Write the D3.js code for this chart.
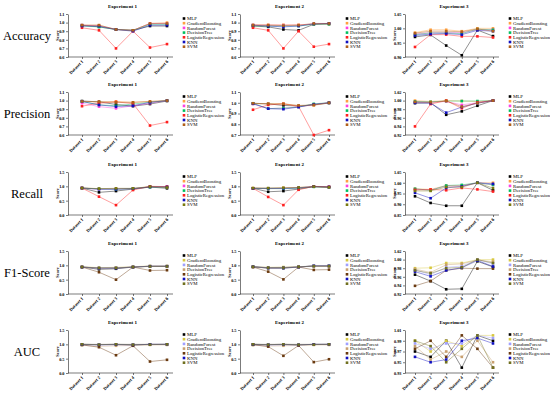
<!DOCTYPE html>
<html>
<head>
<meta charset="utf-8">
<script src="https://cdn.jsdelivr.net/npm/d3@7"></script>
<style>
  body { margin: 0; background: #fff; }
  svg { display: block; }
  text { font-family: "Liberation Serif", "Times New Roman", serif; }
</style>
</head>
<body>
<svg id="chart" width="550" height="395"></svg>
<script>
var models = ["MLP", "GradientBoosting", "RandomForest", "DecisionTree", "LogisticRegression", "KNN", "SVM"];
var datasets = ["Dataset 1", "Dataset 2", "Dataset 3", "Dataset 4", "Dataset 5", "Dataset 6"];
var metrics = ["Accuracy", "Precision", "Recall", "F1-Score", "AUC"];
var experiments = ["Experiment 1", "Experiment 2", "Experiment 3"];

// colours per row (the figure changes palette a bit from row to row)
var paletteA = ["#000000", "#FFA040", "#FF40E0", "#00C060", "#FF2020", "#1010C0", "#B0601A"];
var paletteB = ["#000000", "#FFA040", "#FF40E0", "#00C060", "#FF2020", "#1010C0", "#7A7A10"];
var paletteC = ["#000000", "#D8C840", "#A0A0FF", "#C8A070", "#6A3A10", "#1010C0", "#707020"];

// y tick labels, one list per panel
var ticksAccuracy = [["0.6","0.7","0.8","0.9","1.0","1.1"], ["0.6","0.7","0.8","0.9","1.0","1.1"], ["0.90","0.95","1.00","1.05"]];
var ticksPrecision = [["0.6","0.7","0.8","0.9","1.0","1.1"], ["0.7","0.8","0.9","1.0","1.1"], ["0.92","0.94","0.96","0.98","1.00","1.02"]];
var ticksRecall = [["0.0","0.5","1.0","1.5"], ["0.0","0.5","1.0","1.5"], ["0.85","0.90","0.95","1.00","1.05"]];
var ticksF1 = [["0.0","0.5","1.0","1.5"], ["0.0","0.5","1.0","1.5"], ["0.92","0.94","0.96","0.98","1.00","1.02"]];
var ticksAUC = [["0.0","0.5","1.0","1.5"], ["0.0","0.5","1.0","1.5"], ["0.93","0.95","0.97","0.99","1.01"]];

// rows: MLP, GradientBoosting, RandomForest, DecisionTree, LogisticRegression, KNN, SVM
var accuracyExp1 = [
  [0.97, 0.95, 0.92, 0.91, 0.96, 0.96],
  [0.97, 0.97, 0.92, 0.91, 0.99, 1.00],
  [0.97, 0.96, 0.92, 0.91, 0.99, 0.99],
  [0.96, 0.95, 0.92, 0.91, 0.98, 0.98],
  [0.94, 0.91, 0.70, 0.90, 0.71, 0.75],
  [0.96, 0.96, 0.92, 0.90, 0.97, 0.97],
  [0.97, 0.97, 0.92, 0.91, 0.99, 0.99]
];
var accuracyExp2 = [
  [0.96, 0.95, 0.92, 0.91, 0.98, 0.99],
  [0.975, 0.975, 0.975, 0.975, 0.98, 0.98],
  [0.97, 0.97, 0.97, 0.97, 0.985, 0.985],
  [0.96, 0.96, 0.96, 0.96, 0.98, 0.98],
  [0.94, 0.91, 0.70, 0.90, 0.72, 0.75],
  [0.97, 0.96, 0.95, 0.96, 0.985, 0.99],
  [0.97, 0.97, 0.965, 0.97, 0.99, 0.99]
];
var accuracyExp3 = [
  [0.970, 0.977, 0.940, 0.906, 0.994, 0.973],
  [0.985, 0.995, 0.995, 0.990, 1.000, 1.000],
  [0.980, 0.985, 0.985, 0.985, 0.995, 0.995],
  [0.978, 0.984, 0.984, 0.982, 0.997, 0.995],
  [0.935, 0.978, 0.978, 0.972, 0.972, 0.968],
  [0.975, 0.980, 0.982, 0.978, 0.993, 0.990],
  [0.983, 0.990, 0.990, 0.988, 0.998, 0.990]
];

var precisionExp1 = [
  [0.995, 0.985, 0.955, 0.935, 0.96, 0.995],
  [0.99, 0.98, 0.99, 0.98, 0.99, 1.0],
  [0.97, 0.93, 0.91, 0.94, 0.97, 1.0],
  [0.99, 0.95, 0.94, 0.96, 0.98, 1.0],
  [0.935, 0.97, 0.985, 0.965, 0.71, 0.75],
  [0.99, 0.95, 0.93, 0.94, 0.98, 1.0],
  [0.99, 0.99, 0.98, 0.98, 0.99, 1.0]
];
var precisionExp2 = [
  [0.995, 0.99, 0.975, 0.97, 0.98, 0.997],
  [0.99, 0.99, 0.99, 0.97, 0.975, 1.0],
  [0.99, 0.945, 0.95, 0.96, 0.985, 1.0],
  [0.995, 0.945, 0.95, 0.96, 0.99, 1.0],
  [0.935, 0.98, 0.99, 0.965, 0.70, 0.745],
  [0.99, 0.945, 0.94, 0.96, 0.985, 1.0],
  [0.995, 0.99, 0.99, 0.975, 0.98, 1.0]
];
var precisionExp3 = [
  [0.994, 0.995, 0.967, 0.975, 0.988, 1.0],
  [1.0, 0.998, 1.0, 0.999, 0.998, 1.0],
  [0.997, 0.996, 0.998, 0.99, 0.995, 1.0],
  [0.998, 0.997, 0.999, 0.999, 0.999, 1.0],
  [0.94, 0.992, 1.0, 0.982, 0.996, 1.0],
  [0.995, 0.994, 0.972, 0.985, 0.994, 1.0],
  [0.997, 0.996, 0.999, 0.986, 0.994, 1.0]
];

var recallExp1 = [
  [0.94, 0.79, 0.835, 0.905, 0.975, 0.93],
  [0.94, 0.92, 0.92, 0.92, 0.99, 0.99],
  [0.94, 0.90, 0.91, 0.92, 0.98, 0.98],
  [0.94, 0.91, 0.90, 0.92, 0.97, 0.97],
  [0.94, 0.64, 0.345, 0.87, 1.0, 0.99],
  [0.94, 0.90, 0.90, 0.92, 0.98, 0.98],
  [0.94, 0.92, 0.93, 0.93, 0.99, 0.96]
];
var recallExp2 = [
  [0.93, 0.81, 0.835, 0.905, 0.99, 0.965],
  [0.94, 0.93, 0.95, 0.96, 0.99, 0.98],
  [0.93, 0.92, 0.93, 0.94, 0.99, 0.98],
  [0.93, 0.92, 0.92, 0.93, 0.98, 0.97],
  [0.93, 0.63, 0.345, 0.88, 1.0, 0.98],
  [0.93, 0.93, 0.93, 0.95, 0.99, 0.98],
  [0.94, 0.94, 0.95, 0.96, 0.99, 0.97]
];
var recallExp3 = [
  [0.937, 0.906, 0.893, 0.893, 1.0, 0.965],
  [0.972, 0.969, 0.987, 0.987, 1.0, 1.0],
  [0.970, 0.966, 0.985, 0.985, 1.0, 0.99],
  [0.972, 0.965, 0.987, 0.99, 1.0, 0.99],
  [0.967, 0.969, 0.965, 0.976, 0.969, 0.959],
  [0.953, 0.928, 0.976, 0.983, 1.0, 0.995],
  [0.962, 0.962, 0.98, 0.98, 1.0, 0.975]
];

var f1Exp1 = [
  [0.94, 0.86, 0.88, 0.94, 0.965, 0.965],
  [0.95, 0.92, 0.93, 0.95, 0.98, 0.98],
  [0.94, 0.91, 0.92, 0.94, 0.97, 0.97],
  [0.94, 0.90, 0.91, 0.94, 0.97, 0.97],
  [0.94, 0.76, 0.50, 0.94, 0.82, 0.83],
  [0.94, 0.90, 0.90, 0.94, 0.97, 0.97],
  [0.94, 0.91, 0.91, 0.94, 0.96, 0.96]
];
var f1Exp2 = [
  [0.95, 0.90, 0.90, 0.94, 0.98, 0.98],
  [0.95, 0.93, 0.94, 0.95, 0.98, 0.98],
  [0.95, 0.92, 0.93, 0.95, 0.98, 0.98],
  [0.94, 0.91, 0.92, 0.94, 0.97, 0.97],
  [0.94, 0.78, 0.51, 0.94, 0.84, 0.85],
  [0.95, 0.91, 0.91, 0.94, 0.98, 0.98],
  [0.95, 0.92, 0.92, 0.95, 0.97, 0.97]
];
var f1Exp3 = [
  [0.965, 0.950, 0.931, 0.932, 0.996, 0.983],
  [0.980, 0.981, 0.992, 0.992, 1.0, 1.0],
  [0.976, 0.965, 0.982, 0.985, 1.0, 0.99],
  [0.978, 0.970, 0.988, 0.990, 0.999, 0.995],
  [0.939, 0.950, 0.975, 0.980, 0.979, 0.979],
  [0.972, 0.961, 0.975, 0.981, 0.998, 0.984],
  [0.975, 0.968, 0.980, 0.982, 1.0, 0.992]
];

var aucExp1 = [
  [1.0, 0.99, 1.0, 0.98, 1.0, 1.0],
  [1.0, 1.0, 1.0, 1.0, 1.0, 1.0],
  [1.0, 1.0, 1.0, 1.0, 1.0, 1.0],
  [0.97, 0.93, 0.95, 0.96, 0.98, 0.98],
  [0.98, 0.90, 0.62, 0.95, 0.40, 0.46],
  [0.99, 0.98, 0.99, 0.98, 1.0, 1.0],
  [1.0, 0.99, 1.0, 0.99, 0.99, 1.0]
];
var aucExp2 = [
  [1.0, 0.99, 1.0, 0.98, 1.0, 1.0],
  [1.0, 1.0, 1.0, 1.0, 1.0, 1.0],
  [1.0, 1.0, 1.0, 1.0, 1.0, 1.0],
  [0.97, 0.94, 0.95, 0.96, 0.98, 0.98],
  [0.99, 0.92, 0.60, 0.96, 0.38, 0.48],
  [0.99, 0.98, 0.99, 0.98, 1.0, 1.0],
  [1.0, 0.99, 1.0, 0.99, 0.99, 1.0]
];
var aucExp3 = [
  [0.97, 0.96, 0.99, 0.94, 1.0, 0.99],
  [0.99, 0.97, 0.99, 0.98, 1.0, 1.0],
  [0.985, 0.975, 0.985, 0.985, 1.0, 0.995],
  [0.98, 0.955, 0.97, 0.96, 0.99, 0.95],
  [0.975, 0.99, 0.96, 1.0, 0.975, 0.94],
  [0.96, 0.95, 0.955, 0.99, 0.995, 0.985],
  [0.99, 0.98, 0.95, 0.975, 1.0, 0.94]
];

var rowData = [
  [accuracyExp1, accuracyExp2, accuracyExp3],
  [precisionExp1, precisionExp2, precisionExp3],
  [recallExp1, recallExp2, recallExp3],
  [f1Exp1, f1Exp2, f1Exp3],
  [aucExp1, aucExp2, aucExp3]
];
var rowTicks = [ticksAccuracy, ticksPrecision, ticksRecall, ticksF1, ticksAUC];
var rowPalettes = [paletteA, paletteA, paletteB, paletteC, paletteC];

// layout
var cols = [
  {axisX: 68, p0: 82, p1: 167, end: 173, legendX: 184},
  {axisX: 240, p0: 253, p1: 329, end: 335, legendX: 347},
  {axisX: 405, p0: 415, p1: 493, end: 499, legendX: 510}
];
var rowTop = [14, 92, 172, 251, 330];
var plotH = 43;

var svg = d3.select("#chart");

metrics.forEach(function(metric, r) {
  var top = rowTop[r];
  var bottom = top + plotH;
  var pal = rowPalettes[r];

  svg.append("text")
    .attr("x", 27)
    .attr("y", top + plotH / 2 + 4)
    .attr("text-anchor", "middle")
    .style("font-size", "12.5px")
    .text(metric);

  experiments.forEach(function(exp, c) {
    var col = cols[c];
    var labels = rowTicks[r][c];
    var values = labels.map(Number);
    var series = rowData[r][c];
    var g = svg.append("g");

    var x = d3.scalePoint().domain(datasets).range([col.p0, col.p1]);
    var y = d3.scaleLinear().domain([d3.min(values), d3.max(values)]).range([bottom, top]);

    // y axis
    var ya = g.append("g")
      .attr("transform", "translate(" + col.axisX + ",0)")
      .call(d3.axisLeft(y).tickValues(values).tickFormat(function(d, i) { return labels[i]; })
        .tickSize(2).tickSizeOuter(0).tickPadding(1.5));
    ya.selectAll("text").style("font-size", "4.3px").style("font-weight", "bold")
      .style("font-family", "Liberation Serif, serif");
    ya.selectAll("path, line").attr("stroke", "#222").attr("stroke-width", 0.6);

    // x axis
    var xa = g.append("g")
      .attr("transform", "translate(0," + bottom + ")")
      .call(d3.axisBottom(x).tickSize(2).tickSizeOuter(0));
    xa.select(".domain").remove();
    xa.selectAll("line").attr("stroke", "#222").attr("stroke-width", 0.6);
    xa.selectAll("text")
      .style("font-size", "4.5px").style("font-weight", "bold")
      .style("font-family", "Liberation Serif, serif")
      .attr("text-anchor", "end")
      .attr("transform", "rotate(-45)")
      .attr("dx", "-0.6em").attr("dy", "0.5em")
      .attr("y", 2);
    g.append("line")
      .attr("x1", col.axisX).attr("x2", col.end)
      .attr("y1", bottom).attr("y2", bottom)
      .attr("stroke", "#222").attr("stroke-width", 0.6);

    // title and y label
    g.append("text")
      .attr("x", (col.axisX + col.end) / 2 + 2)
      .attr("y", top - 6)
      .attr("text-anchor", "middle")
      .style("font-size", "5px").style("font-weight", "bold")
      .text(exp);
    g.append("text")
      .attr("transform", "translate(" + (col.axisX - 9) + "," + (top + plotH / 2) + ") rotate(-90)")
      .attr("text-anchor", "middle")
      .style("font-size", "4.5px").style("font-weight", "bold")
      .text("Score");

    // lines + square markers
    var line = d3.line()
      .x(function(d, i) { return x(datasets[i]); })
      .y(function(d) { return y(d); });

    series.forEach(function(vals, m) {
      g.append("path")
        .datum(vals)
        .attr("d", line)
        .attr("fill", "none")
        .attr("stroke", pal[m])
        .attr("stroke-opacity", 0.55)
        .attr("stroke-width", 0.8);
      g.selectAll(null)
        .data(vals)
        .enter()
        .append("rect")
        .attr("x", function(d, i) { return x(datasets[i]) - 1.3; })
        .attr("y", function(d) { return y(d) - 1.3; })
        .attr("width", 2.6)
        .attr("height", 2.6)
        .attr("fill", pal[m]);
    });

    // legend
    var lg = g.append("g");
    models.forEach(function(name, m) {
      var ly = top + 4.5 + m * 4.7;
      lg.append("rect")
        .attr("x", col.legendX - 1.3).attr("y", ly - 1.3)
        .attr("width", 2.6).attr("height", 2.6)
        .attr("fill", pal[m]);
      lg.append("text")
        .attr("x", col.legendX + 3)
        .attr("y", ly + 1.6)
        .style("font-size", "4.8px")
        .text(name);
    });
  });
});
</script>
</body>
</html>
